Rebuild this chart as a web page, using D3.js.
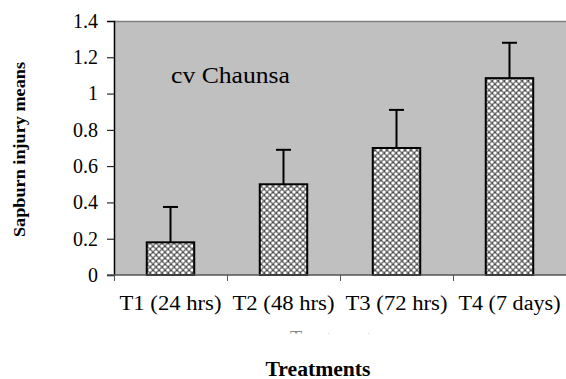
<!DOCTYPE html>
<html>
<head>
<meta charset="utf-8">
<script src="https://cdn.jsdelivr.net/npm/d3@7"></script>
<style>
  body { margin: 0; background: #fff; }
  text { font-family: "Liberation Serif", "Times New Roman", serif; }
</style>
</head>
<body>
<svg id="chart" width="566" height="379"></svg>
<script>
// values
var treatments = ["T1 (24 hrs)", "T2 (48 hrs)", "T3 (72 hrs)", "T4 (7 days)"];
var means = [0.18, 0.50, 0.70, 1.085];
var errors = [0.195, 0.19, 0.21, 0.195];
var yTicks = [0, 0.2, 0.4, 0.6, 0.8, 1, 1.2, 1.4];

var svg = d3.select("#chart");
var pLeft = 114, pTop = 21, pRight = 566, pBottom = 275;

var x = d3.scaleBand().domain(treatments).range([pLeft, pRight]).paddingInner(0.58).paddingOuter(0.29);
var band = d3.scaleBand().domain(treatments).range([pLeft, pRight]);
var y = d3.scaleLinear().domain([0, 1.4]).range([pBottom, pTop]);

// dotted hatch fill
var defs = svg.append("defs");
var pat = defs.append("pattern").attr("id", "dots")
  .attr("patternUnits", "userSpaceOnUse").attr("width", 6).attr("height", 6);
pat.append("rect").attr("width", 6).attr("height", 6).attr("fill", "#7a7a7a");
[[0,0],[6,0],[0,6],[6,6],[3,3]].forEach(function(p) {
  pat.append("circle").attr("cx", p[0]).attr("cy", p[1]).attr("r", 1.6).attr("fill", "#fff");
});
pat.append("rect").attr("x", 2.5).attr("y", 0).attr("width", 1).attr("height", 1).attr("fill", "#222");
pat.append("rect").attr("x", 0).attr("y", 2.5).attr("width", 1).attr("height", 1).attr("fill", "#222");

defs.append("clipPath").attr("id", "ghostClip")
  .append("rect").attr("x", 0).attr("y", 331).attr("width", 566).attr("height", 2.5);

// plot area
svg.append("rect").attr("x", pLeft).attr("y", pTop)
  .attr("width", pRight - pLeft).attr("height", pBottom - pTop).attr("fill", "#c0c0c0");
svg.append("line").attr("x1", pLeft).attr("x2", pRight).attr("y1", pTop + 0.5).attr("y2", pTop + 0.5)
  .attr("stroke", "#808080").attr("stroke-width", 1.5);

// error bars
var eb = svg.append("g");
treatments.forEach(function(t, i) {
  var cx = x(t) + x.bandwidth() / 2;
  eb.append("line").attr("x1", cx).attr("x2", cx)
    .attr("y1", y(means[i])).attr("y2", y(means[i] + errors[i]))
    .attr("stroke", "#000").attr("stroke-width", 2);
  eb.append("line").attr("x1", cx - 7.5).attr("x2", cx + 7.5)
    .attr("y1", y(means[i] + errors[i])).attr("y2", y(means[i] + errors[i]))
    .attr("stroke", "#000").attr("stroke-width", 2);
});

// bars
svg.append("g").selectAll("rect").data(means).enter().append("rect")
  .attr("x", function(d, i) { return x(treatments[i]); })
  .attr("y", function(d) { return y(d); })
  .attr("width", x.bandwidth())
  .attr("height", function(d) { return pBottom - y(d); })
  .attr("fill", "url(#dots)")
  .attr("stroke", "#000").attr("stroke-width", 2);

// y axis
var yAxis = svg.append("g").attr("transform", "translate(" + pLeft + ",0)")
  .call(d3.axisLeft(y).tickValues(yTicks).tickSize(7).tickPadding(9)
    .tickFormat(function(d) { return String(+d.toFixed(1)); }));
yAxis.attr("font-family", null).attr("font-size", null);
yAxis.select(".domain").attr("stroke", "#000").attr("stroke-width", 1.5);
yAxis.selectAll(".tick line").attr("stroke", "#000");
yAxis.selectAll("text")
  .style("font-family", "'Liberation Serif', 'Times New Roman', serif")
  .style("font-size", "20px").attr("fill", "#000");

// x axis
var xg = svg.append("g").attr("transform", "translate(0," + pBottom + ")");
xg.append("line").attr("x1", pLeft - 7).attr("x2", pRight).attr("y1", 0).attr("y2", 0)
  .attr("stroke", "#555").attr("stroke-width", 1.5);
band.domain().forEach(function(t) {
  var bx = band(t);
  xg.append("line").attr("x1", bx + 0.5).attr("x2", bx + 0.5).attr("y1", 0).attr("y2", 6)
    .attr("stroke", "#555");
  xg.append("text").attr("x", band(t) + band.bandwidth() / 2).attr("y", 35)
    .attr("text-anchor", "middle").attr("font-size", 20)
    .attr("textLength", 102).attr("lengthAdjust", "spacingAndGlyphs").text(t);
});

// annotation
svg.append("text").attr("x", 171).attr("y", 83).attr("font-size", 24)
  .attr("textLength", 119).attr("lengthAdjust", "spacingAndGlyphs").text("cv Chaunsa");

// titles
svg.append("text").attr("x", 318).attr("y", 376).attr("text-anchor", "middle")
  .attr("font-size", 20).attr("font-weight", "bold")
  .attr("textLength", 105).attr("lengthAdjust", "spacingAndGlyphs").text("Treatments");
svg.append("text").attr("transform", "translate(25,149.5) rotate(-90)")
  .attr("text-anchor", "middle").attr("font-size", 17).attr("font-weight", "bold")
  .attr("textLength", 175).attr("lengthAdjust", "spacingAndGlyphs")
  .text("Sapburn injury means");

// half-hidden duplicate axis title
svg.append("text").attr("x", 290).attr("y", 345).attr("font-size", 20).attr("fill", "#888")
  .attr("clip-path", "url(#ghostClip)").text("Treatments");
</script>
</body>
</html>
